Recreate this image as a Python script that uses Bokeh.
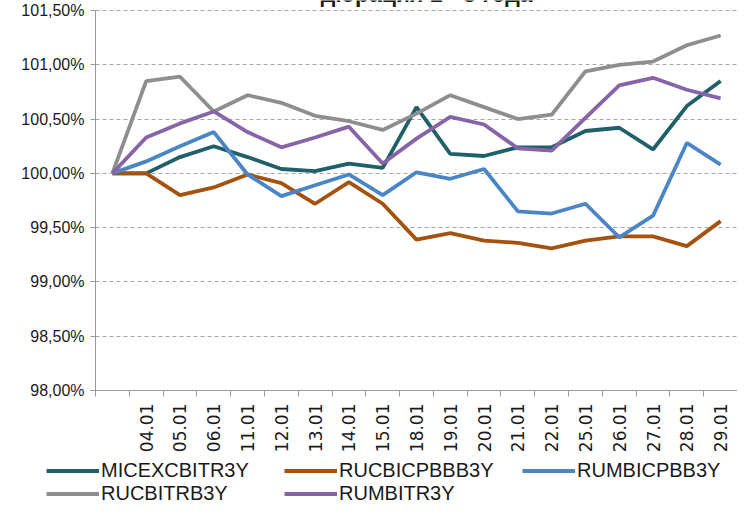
import math
from bokeh.plotting import figure
from bokeh.models import FixedTicker, Legend, LegendItem, Label, Range1d, LinearAxis, Grid
from bokeh.embed import file_html
from bokeh.resources import INLINE

title_text = "дюрация 1 - 3 года"
dates = ["", "04.01", "05.01", "06.01", "11.01", "12.01", "13.01", "14.01", "15.01",
         "18.01", "19.01", "20.01", "21.01", "22.01", "25.01", "26.01", "27.01", "28.01", "29.01"]

micex = [100.00, 100.00, 100.15, 100.25, 100.15, 100.04, 100.02, 100.09, 100.05,
         100.61, 100.18, 100.16, 100.24, 100.24, 100.39, 100.42, 100.22, 100.62, 100.85]
rucbicpbbb = [100.00, 100.00, 99.80, 99.87, 99.99, 99.91, 99.72, 99.92, 99.72,
              99.39, 99.45, 99.38, 99.36, 99.31, 99.38, 99.42, 99.42, 99.33, 99.56]
rumbicpbb = [100.00, 100.11, 100.25, 100.38, 99.99, 99.79, 99.89, 99.99, 99.80,
             100.01, 99.95, 100.04, 99.65, 99.63, 99.72, 99.41, 99.61, 100.28, 100.08]
rucbitrb = [100.00, 100.85, 100.89, 100.57, 100.72, 100.65, 100.53, 100.48, 100.40,
            100.55, 100.72, 100.61, 100.50, 100.54, 100.94, 101.00, 101.03, 101.18, 101.27]
rumbitr = [100.00, 100.33, 100.46, 100.57, 100.38, 100.24, 100.33, 100.43, 100.09,
           100.32, 100.52, 100.45, 100.23, 100.21, 100.51, 100.81, 100.88, 100.77, 100.69]

series_names = ["MICEXCBITR3Y", "RUCBICPBBB3Y", "RUMBICPBB3Y", "RUCBITRB3Y", "RUMBITR3Y"]
series_values = [micex, rucbicpbbb, rumbicpbb, rucbitrb, rumbitr]
series_colors = ["#20606A", "#A5520F", "#4A86C6", "#8E8E8E", "#8763A8"]
# legend is filled column by column: 3 columns x 2 rows
legend_order = [0, 3, 1, 4, 2]

y_ticks = [98.0, 98.5, 99.0, 99.5, 100.0, 100.5, 101.0, 101.5]
y_labels = ["98,00%", "98,50%", "99,00%", "99,50%", "100,00%", "100,50%", "101,00%", "101,50%"]

x = list(range(len(dates)))

# layout geometry (canvas 737x506); plot box from px 95..737 horizontally, 10..390 vertically
W, H = 737, 506
box_l, box_t, box_b = 95, 10, 390
n = len(dates)
px_per_cat = (W - box_l) / n
px_per_pct = (box_b - box_t) / (y_ticks[-1] - y_ticks[0])
x_start = -0.5 - box_l / px_per_cat
y_end = y_ticks[-1] + box_t / px_per_pct
y_start = y_ticks[0] - (H - box_b) / px_per_pct

p = figure(width=W, height=H, output_backend="svg", toolbar_location=None,
           x_range=Range1d(x_start, n - 0.5), y_range=Range1d(y_start, y_end),
           x_axis_location=None, y_axis_location=None, min_border=0)
p.outline_line_color = None
p.background_fill_color = "white"
p.border_fill_color = "white"
p.xgrid.visible = False
p.ygrid.visible = False

axis_col = "#9A9A9A"
txt_col = "#1a1a1a"

yticker = FixedTicker(ticks=y_ticks)
yaxis = LinearAxis(ticker=yticker, fixed_location=-0.5, bounds=(y_ticks[0], y_ticks[-1]))
yaxis.major_label_overrides = {v: l for v, l in zip(y_ticks, y_labels)}
yaxis.major_label_text_font = "Liberation Sans"
yaxis.major_label_text_font_size = "16px"
yaxis.major_label_text_color = txt_col
yaxis.axis_line_color = axis_col
yaxis.major_tick_line_color = axis_col
yaxis.major_tick_out = 5
yaxis.major_tick_in = 0
yaxis.minor_tick_line_color = None
yaxis.major_label_standoff = 6
p.add_layout(yaxis, "left")

xticker = FixedTicker(ticks=x[1:], minor_ticks=[i - 0.5 for i in range(n + 1)])
xaxis = LinearAxis(ticker=xticker, fixed_location=y_ticks[0], bounds=(-0.5, n - 0.5))
xaxis.major_label_overrides = {i: dates[i] for i in x[1:]}
xaxis.major_label_orientation = math.pi / 2
xaxis.major_label_text_font = "DejaVu Sans"
xaxis.major_label_text_font_size = "17px"
xaxis.major_label_text_color = txt_col
xaxis.axis_line_color = axis_col
xaxis.major_tick_line_color = None
xaxis.major_tick_out = 0
xaxis.major_tick_in = 0
xaxis.minor_tick_line_color = axis_col
xaxis.minor_tick_out = 6
xaxis.minor_tick_in = 0
xaxis.major_label_standoff = 7
p.add_layout(xaxis, "below")

grid = Grid(dimension=1, ticker=yticker, grid_line_color="#A6A6A6", grid_line_dash="4 3",
            grid_line_width=1, cross_bounds=(-0.5, n - 0.5))
p.add_layout(grid)

renderers = []
for name, vals, col in zip(series_names, series_values, series_colors):
    r = p.line(x, vals, line_width=3.8, line_color=col)
    renderers.append(r)

items = [LegendItem(label=series_names[i], renderers=[renderers[i]]) for i in legend_order]
legend = Legend(items=items, ncols=3, location=(46, 1), padding=0, margin=0,
                spacing=0, glyph_width=53, glyph_height=21, label_height=21, label_width=183,
                label_standoff=2, label_text_font="Liberation Sans", label_text_font_size="20px",
                label_text_color=txt_col, border_line_color=None,
                background_fill_alpha=0)
p.add_layout(legend, "center")

title = Label(x=(n - 1) / 2 + 0.3, y=y_end - 6 / px_per_pct, text=title_text, text_align="center",
              text_baseline="bottom", text_font="Liberation Sans", text_font_style="bold",
              text_font_size="23px", text_color=txt_col)
p.add_layout(title)

open("out.html", "w").write(file_html(p, INLINE))
